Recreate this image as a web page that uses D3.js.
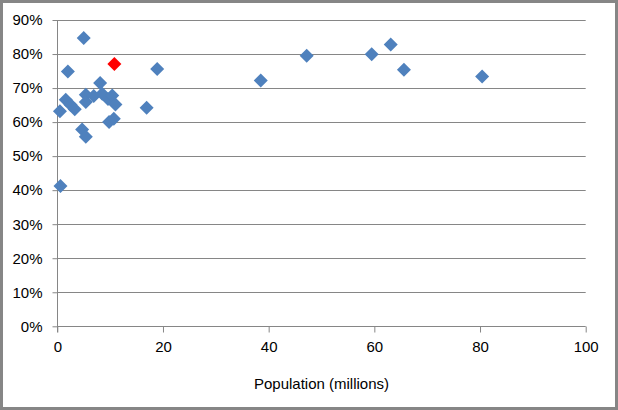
<!DOCTYPE html>
<html>
<head>
<meta charset="utf-8">
<script src="https://cdn.jsdelivr.net/npm/d3@7"></script>
<style>
body { margin: 0; background: white; }
text { font-family: "Liberation Sans", Arial, sans-serif; }
</style>
</head>
<body>
<svg id="view" width="618" height="410"></svg>
<script>
// DATA
var population = [5.0, 2.0, 18.9, 8.1, 0.5, 1.6, 2.5, 3.3, 5.4, 5.4, 6.9, 8.5, 9.6, 10.4,
    11.0, 9.8, 10.7, 4.7, 5.4, 16.9, 0.6, 38.5, 47.2, 59.5, 63.1, 65.6, 80.4];
var share = [0.847, 0.749, 0.756, 0.715, 0.632, 0.666, 0.651, 0.638, 0.680, 0.659, 0.677, 0.683, 0.668, 0.678,
    0.652, 0.600, 0.610, 0.578, 0.557, 0.642, 0.412, 0.722, 0.795, 0.799, 0.828, 0.754, 0.734];
var highlightPopulation = [10.8];
var highlightShare = [0.771];
var xTicks = [0, 20, 40, 60, 80, 100];
var yTicks = [0, 0.1, 0.2, 0.3, 0.4, 0.5, 0.6, 0.7, 0.8, 0.9];
var xTitle = "Population (millions)";

// CONSTANTS
var BLUE = "#4f81bd";
var RED = "#ff0000";
var GRID = "#868686";
var DIAMOND = 98;

function main() {
    var svg = d3.select("#view");

    svg.append("rect")
        .attr("x", 1.5)
        .attr("y", 1.5)
        .attr("width", 615)
        .attr("height", 407)
        .attr("fill", "white")
        .attr("stroke", "#868686")
        .attr("stroke-width", 3)
        ;

    var x = d3.scaleLinear().domain([0, 100]).range([57.3, 585.7]);
    var y = d3.scaleLinear().domain([0, 0.9]).range([326.3, 20]);

    // gridlines
    svg.append("g")
        .selectAll("line")
        .data(yTicks)
        .join("line")
        .attr("x1", x(0))
        .attr("x2", x(100))
        .attr("y1", function(d) { return Math.round(y(d)) + 0.5; })
        .attr("y2", function(d) { return Math.round(y(d)) + 0.5; })
        .attr("stroke", GRID)
        .attr("stroke-width", 1)
        ;

    var yAxis = svg.append("g")
        .attr("transform", "translate(" + (Math.round(x(0)) + 0.5) + ",0)")
        .call(d3.axisLeft(y).tickValues(yTicks).tickFormat(d3.format(".0%")).tickSize(5).tickPadding(10));
    yAxis.select(".domain").attr("stroke", GRID).attr("d", "M0," + y(0.9) + "V" + (y(0) + 6));
    yAxis.selectAll(".tick line").attr("stroke", GRID);
    yAxis.selectAll(".tick text")
        .attr("font-size", 15)
        .attr("fill", "#000")
        ;

    var xAxis = svg.append("g")
        .attr("transform", "translate(0," + (Math.round(y(0)) + 0.5) + ")")
        .call(d3.axisBottom(x).tickValues(xTicks).tickSize(6).tickPadding(9));
    xAxis.select(".domain").attr("stroke", "none");
    xAxis.selectAll(".tick line").attr("stroke", GRID);
    xAxis.selectAll(".tick text")
        .attr("font-size", 15)
        .attr("fill", "#000")
        ;

    svg.append("text")
        .attr("x", (x(0) + x(100)) / 2)
        .attr("y", 389)
        .attr("text-anchor", "middle")
        .attr("font-size", 15)
        .attr("fill", "#000")
        .text(xTitle)
        ;

    var diamond = d3.symbol().type(d3.symbolSquare).size(DIAMOND);

    svg.append("g")
        .selectAll("path")
        .data(population)
        .join("path")
        .attr("d", diamond)
        .attr("transform", function(d, i) {
            return "translate(" + x(d) + "," + y(share[i]) + ") rotate(45)";
        })
        .attr("fill", BLUE)
        ;

    svg.append("g")
        .selectAll("path")
        .data(highlightPopulation)
        .join("path")
        .attr("d", diamond)
        .attr("transform", function(d, i) {
            return "translate(" + x(d) + "," + y(highlightShare[i]) + ") rotate(45)";
        })
        .attr("fill", RED)
        ;
}

main();
</script>
</body>
</html>
